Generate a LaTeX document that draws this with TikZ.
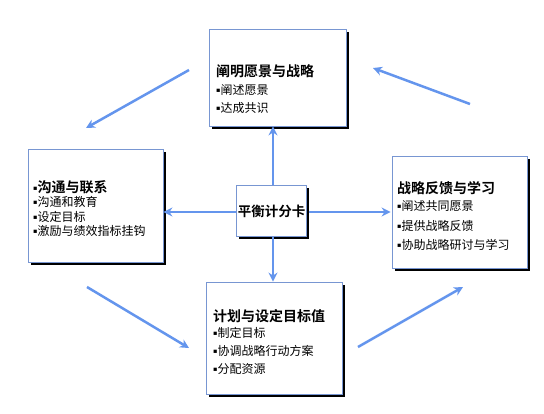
\documentclass[tikz,border=0pt]{standalone}
\usepackage{fontspec}
\setmainfont{Noto Sans CJK SC}[BoldFont={Noto Sans CJK SC Bold}]
\newfontfamily\bulfont{DejaVu Sans}
\newcommand{\bul}{\makebox[4.5pt][l]{\raisebox{1.8pt}{\bulfont\fontsize{6.5}{7}\selectfont ▪}}}
\usetikzlibrary{arrows.meta}
\definecolor{arr}{RGB}{100,149,237}
\definecolor{bord}{RGB}{120,150,210}
\tikzset{
  panel/.style={draw=bord, line width=0.8pt, fill=white},
  flow/.style={draw=arr, line width=2.5pt, -{Stealth[length=9pt,width=9pt]}},
  ttl/.style={anchor=west, inner sep=0pt, font=\fontsize{14}{16}\selectfont\bfseries},
  itm/.style={anchor=west, inner sep=0pt, font=\fontsize{12}{14}\selectfont},
}
\begin{document}
\begin{tikzpicture}[x=1pt,y=-1pt]
\useasboundingbox (0,0) rectangle (544,413);
% shadows
\fill (212,32) rectangle (349,129);
\fill (31,152) rectangle (166,265);
\fill (395,159) rectangle (530,271);
\fill (209,285) rectangle (345,397);
\fill (239,188) rectangle (309,239);
% boxes
\node[panel, minimum width=137pt, minimum height=97pt, inner sep=0pt] (top) at (277.5,77.5) {};
\node[panel, minimum width=135pt, minimum height=113pt, inner sep=0pt] (left) at (95.5,205.5) {};
\node[panel, minimum width=135pt, minimum height=112pt, inner sep=0pt] (right) at (459.5,212) {};
\node[panel, minimum width=136pt, minimum height=112pt, inner sep=0pt] (bot) at (274,338) {};
\node[panel, minimum width=70pt, minimum height=51pt, inner sep=0pt, font=\fontsize{13.5}{15}\selectfont\bfseries] (mid) at (271.5,211) {平衡计分卡};
% texts
\node[ttl] (t1) at (216,71) {阐明愿景与战略};
\node[itm] (t2) at (216,90) {\bul 阐述愿景};
\node[itm] (t3) at (216,108) {\bul 达成共识};
\node[ttl] (l1) at (33,187) {\bul 沟通与联系};
\node[itm] (l2) at (33,202) {\bul 沟通和教育};
\node[itm] (l3) at (33,217) {\bul 设定目标};
\node[itm] (l4) at (33,231) {\bul 激励与绩效指标挂钩};
\node[ttl] (r1) at (397,188) {战略反馈与学习};
\node[itm] (r2) at (397,206) {\bul 阐述共同愿景};
\node[itm] (r3) at (397,226) {\bul 提供战略反馈};
\node[itm] (r4) at (397,245) {\bul 协助战略研讨与学习};
\node[ttl] (b1) at (213,316) {计划与设定目标值};
\node[itm] (b2) at (213,333) {\bul 制定目标};
\node[itm] (b3) at (213,351) {\bul 协调战略行动方案};
\node[itm] (b4) at (213,369) {\bul 分配资源};
% straight connectors
\coordinate (mn) at ([xshift=1.5pt]mid.north);
\coordinate (ms) at ([xshift=1.5pt]mid.south);
\coordinate (mw) at ([yshift=-1pt]mid.west);
\coordinate (me) at ([yshift=-1pt]mid.east);
\draw[flow] (mn) -- (mn |- top.south);
\draw[flow] (mw) -- (mw -| left.east);
\draw[flow] ([xshift=2pt]me) -- ([xshift=-1pt]me -| right.west);
\draw[flow] (ms) -- (ms |- bot.north);
% diagonal arrows
\coordinate (a1) at (189,70); \coordinate (a2) at (86,128);
\coordinate (b1s) at (470,104); \coordinate (b2e) at (373,68);
\coordinate (c1) at (87,287); \coordinate (c2) at (189,348);
\coordinate (d1) at (358,347); \coordinate (d2) at (463,287);
\draw[flow] (a1) -- (a2);
\draw[flow] (b1s) -- (b2e);
\draw[flow] (c1) -- (c2);
\draw[flow] (d1) -- (d2);
\end{tikzpicture}
\end{document}
